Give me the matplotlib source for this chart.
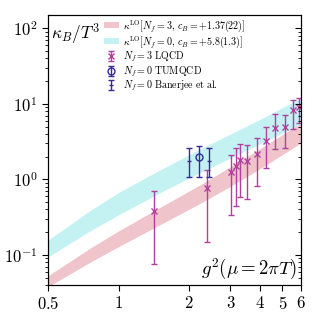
import numpy as np
import matplotlib
matplotlib.use("Agg")
import matplotlib.pyplot as plt
from matplotlib.ticker import FixedLocator, FixedFormatter, LogLocator, NullFormatter, NullLocator

plt.rcParams['mathtext.fontset'] = 'cm'
plt.rcParams['font.family'] = 'serif'
plt.rcParams['font.serif'] = ['cmr10', 'DejaVu Serif']
plt.rcParams['axes.formatter.use_mathtext'] = True

# LO bands
band_x = [0.5, 0.75, 1.0, 1.5, 2.21, 3.0, 4.0, 6.0]
nf3_lo = [0.038, 0.079, 0.129, 0.251, 0.475, 0.810, 1.38, 3.04]
nf3_hi = [0.053, 0.121, 0.208, 0.425, 0.835, 1.47, 2.53, 5.6]
nf0_lo = [0.094, 0.205, 0.340, 0.665, 1.216, 1.92, 2.94, 5.42]
nf0_hi = [0.157, 0.380, 0.671, 1.332, 2.49, 3.99, 6.21, 11.97]

# Nf = 3 LQCD
lq_g2 = [1.41, 2.38, 3.01, 3.17, 3.30, 3.52, 3.88, 4.25, 4.65, 5.13, 5.56, 5.88]
lq_y = [0.385, 0.76, 1.24, 1.49, 1.82, 1.73, 2.18, 3.23, 4.79, 4.89, 8.22, 9.1]
lq_hi = [0.695, 1.34, 2.13, 2.6, 2.97, 2.85, 3.58, 4.89, 7.26, 7.03, 11.4, 11.8]
lq_lo = [0.075, 0.147, 0.336, 0.44, 0.58, 0.55, 0.82, 1.41, 2.49, 2.62, 4.64, 5.5]

# Nf = 0 TUMQCD
tum_g2 = [2.21]
tum_y = [1.96]
tum_hi = [2.77]
tum_lo = [1.09]

# Nf = 0 Banerjee et al.
ban_g2 = [2.0, 2.42]
ban_y = [1.75, 1.75]
ban_hi = [2.62, 2.62]
ban_lo = [1.09, 1.09]

xticks = [0.5, 1, 2, 3, 4, 5, 6]
xticklabels = ['$0.5$', '$1$', '$2$', '$3$', '$4$', '$5$', '$6$']

pink = '#efc4ca'
cyan = '#c4f2f2'
mag = '#b0409e'
blue = '#352c98'

fig = plt.figure(figsize=(3.17, 3.17), dpi=100)
ax = fig.add_axes([48/317, 32/317, 253/317, 270/317])
ax.set_xscale('log')
ax.set_yscale('log')

ax.fill_between(band_x, nf3_lo, nf3_hi, color=pink, lw=0,
                label=r'$\kappa^{\rm LO}[N_f=3,\,c_B=+1.37(22)]$')
ax.fill_between(band_x, nf0_lo, nf0_hi, color=cyan, lw=0,
                label=r'$\kappa^{\rm LO}[N_f=0,\,c_B=+5.8(1.3)]$')

def err(y, lo, hi):
    y = np.array(y); return [y - np.array(lo), np.array(hi) - y]

ax.errorbar(lq_g2, lq_y, yerr=err(lq_y, lq_lo, lq_hi), fmt='x', color=mag,
            ms=5, mew=1.0, elinewidth=1.0, capsize=2.5, capthick=1.0,
            label=r'$N_f=3\ {\rm LQCD}$')
ax.errorbar(tum_g2, tum_y, yerr=err(tum_y, tum_lo, tum_hi), fmt='o', color=blue,
            mfc='none', ms=5, mew=1.0, elinewidth=1.0, capsize=2.5, capthick=1.0,
            label=r'$N_f=0\ {\rm TUMQCD}$')
ax.errorbar(ban_g2, ban_y, yerr=err(ban_y, ban_lo, ban_hi), fmt='_', color=blue,
            ms=3, mew=1.0, elinewidth=1.0, capsize=2.5, capthick=1.0,
            label=r'$N_f=0\ {\rm Banerjee\ et\ al.}$')

ax.set_xlim(0.5, 6)
ax.set_ylim(0.04, 150)
ax.xaxis.set_major_locator(FixedLocator(xticks))
ax.xaxis.set_major_formatter(FixedFormatter(xticklabels))
ax.xaxis.set_minor_locator(NullLocator())
ax.yaxis.set_minor_locator(LogLocator(base=10, subs=np.arange(2, 10)))
ax.yaxis.set_minor_formatter(NullFormatter())
ax.tick_params(axis='both', which='major', labelsize=12, direction='out', length=4, width=0.8)
ax.tick_params(axis='y', which='minor', direction='out', length=2.5, width=0.6)

ax2 = ax.twinx()
ax2.set_yscale('log')
ax2.set_ylim(ax.get_ylim())
ax2.yaxis.set_minor_locator(LogLocator(base=10, subs=np.arange(2, 10)))
ax2.yaxis.set_minor_formatter(NullFormatter())
ax2.tick_params(axis='y', which='major', direction='in', length=4, width=0.8, labelright=False)
ax2.tick_params(axis='y', which='minor', direction='in', length=2.5, width=0.6)

ax.text(0.012, 0.975, r'$\kappa_B/T^3$', transform=ax.transAxes, fontsize=12.5,
        ha='left', va='top')
ax.text(0.985, 0.012, r'$g^2(\mu=2\pi T)$', transform=ax.transAxes, fontsize=13.5,
        ha='right', va='bottom')

ax.legend(loc='upper left', bbox_to_anchor=(0.221, 0.988), fontsize=7.2, frameon=False,
          handlelength=1.5, handleheight=0.6, handletextpad=0.4, labelspacing=0.02,
          borderpad=0.0, borderaxespad=0.0)

fig.savefig('out.png', dpi=100)
